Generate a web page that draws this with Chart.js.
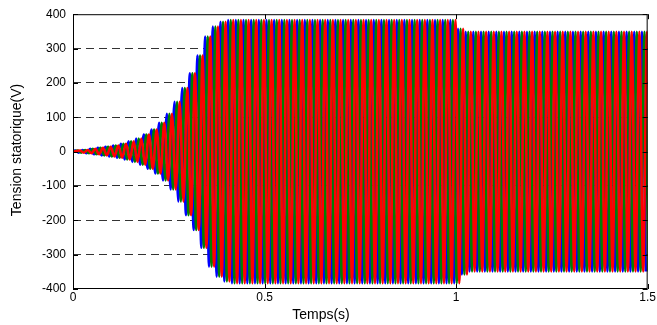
<!DOCTYPE html>
<html>
<head>
<meta charset="utf-8">
<script src="https://cdn.jsdelivr.net/npm/chart.js@4"></script>
<style>
  html, body { margin: 0; padding: 0; background: #fff; }
  #wrap { width: 657px; height: 325px; }
</style>
</head>
<body>
<div id="wrap"><canvas id="tensionChart" width="657" height="325"></canvas></div>
<script>
// supply period (s) and phase shift between the three phases
const period = 0.02;
const phaseNames = ['Va', 'Vb', 'Vc'];
const phaseColors = ['#0000ff', '#008000', '#ff0000'];

// peak stator voltage of each cycle (V), cycle k covers [k*period, (k+1)*period]
const cycleAmp = [
    3, 5, 8, 11, 14, 18, 23, 30, 38, 50,
    64, 84, 110, 145, 185, 228, 280, 335, 364, 378,
    383, 383, 383, 383, 383, 383, 383, 383, 383, 383,
    383, 383, 383, 383, 383, 383, 383, 383, 383, 383,
    383, 383, 383, 383, 383, 383, 383, 383, 383, 383,
    358, 349, 349, 349, 349, 349, 349, 349, 349, 349,
    349, 349, 349, 349, 349, 349, 349, 349, 349, 349,
    349, 349, 349, 349, 349
];

const xTicks = [0, 0.5, 1, 1.5];
const xTickLabels = ['0', '0.5', '1', '1.5'];
const yTicks = [-400, -300, -200, -100, 0, 100, 200, 300, 400];

const fontFamily = '"Liberation Sans", Arial, sans-serif';

// one point per positive / negative peak of each phase
function phasePoints(p) {
    const shift = p * period / 3;
    const pts = [{ x: 0, y: 0 }];
    cycleAmp.forEach((a, k) => {
        pts.push({ x: k * period + period / 4 + shift, y: a });
        pts.push({ x: k * period + 3 * period / 4 + shift, y: -a });
    });
    return pts;
}

// red last in MATLAB order, so it goes first here to be drawn on top
const datasets = [2, 1, 0].map(p => ({
    label: phaseNames[p],
    data: phasePoints(p),
    borderColor: phaseColors[p],
    borderWidth: 2.5,
    pointRadius: 0,
    cubicInterpolationMode: 'monotone',
    fill: false
}));

const frame = {
    id: 'frame',
    afterDraw(chart) {
        const { ctx, chartArea: a, scales } = chart;
        ctx.save();
        ctx.strokeStyle = '#000';
        ctx.lineWidth = 1;
        ctx.strokeRect(a.left + 0.5, a.top + 0.5, a.right - a.left - 1, a.bottom - a.top - 1);
        ctx.beginPath();
        xTicks.forEach(v => {
            const x = Math.round(scales.x.getPixelForValue(v)) + 0.5;
            ctx.moveTo(x, a.bottom); ctx.lineTo(x, a.bottom - 5);
            ctx.moveTo(x, a.top); ctx.lineTo(x, a.top + 5);
        });
        yTicks.forEach(v => {
            const y = Math.round(scales.y.getPixelForValue(v)) + 0.5;
            ctx.moveTo(a.left, y); ctx.lineTo(a.left + 5, y);
            ctx.moveTo(a.right, y); ctx.lineTo(a.right - 5, y);
        });
        ctx.stroke();

        // axis titles
        ctx.fillStyle = '#000';
        ctx.font = '14px ' + fontFamily;
        ctx.textAlign = 'center';
        ctx.textBaseline = 'middle';
        ctx.fillText('Temps(s)', 321, 315);
        ctx.translate(17, 150);
        ctx.rotate(-Math.PI / 2);
        ctx.fillText('Tension statorique(V)', 0, 0);
        ctx.restore();
    }
};

new Chart(document.getElementById('tensionChart').getContext('2d'), {
    type: 'line',
    data: { datasets: datasets },
    plugins: [frame],
    options: {
        responsive: false,
        animation: false,
        parsing: false,
        normalized: true,
        layout: { padding: { left: 0, right: 8, top: 10, bottom: 0 } },
        plugins: { legend: { display: false }, tooltip: { enabled: false } },
        scales: {
            x: {
                type: 'linear',
                min: 0,
                max: 1.5,
                afterFit: s => { s.height = 36; },
                afterBuildTicks: s => { s.ticks = xTicks.map(v => ({ value: v })); },
                ticks: {
                    padding: 1,
                    color: '#000',
                    font: { family: fontFamily, size: 12 },
                    callback: (v) => xTickLabels[xTicks.indexOf(v)]
                },
                grid: { display: false, drawTicks: false },
                border: { display: false }
            },
            y: {
                min: -400,
                max: 400,
                afterFit: s => { s.width = 73; },
                afterBuildTicks: s => { s.ticks = yTicks.map(v => ({ value: v })); },
                ticks: {
                    padding: 7,
                    color: '#000',
                    font: { family: fontFamily, size: 12 }
                },
                grid: {
                    drawTicks: false,
                    color: c => (Math.abs(c.tick.value) === 400 || c.tick.value === 0) ? 'rgba(0,0,0,0)' : '#333',
                    lineWidth: 1
                },
                border: { display: false, dash: [8, 5] }
            }
        }
    }
});
</script>
</body>
</html>
